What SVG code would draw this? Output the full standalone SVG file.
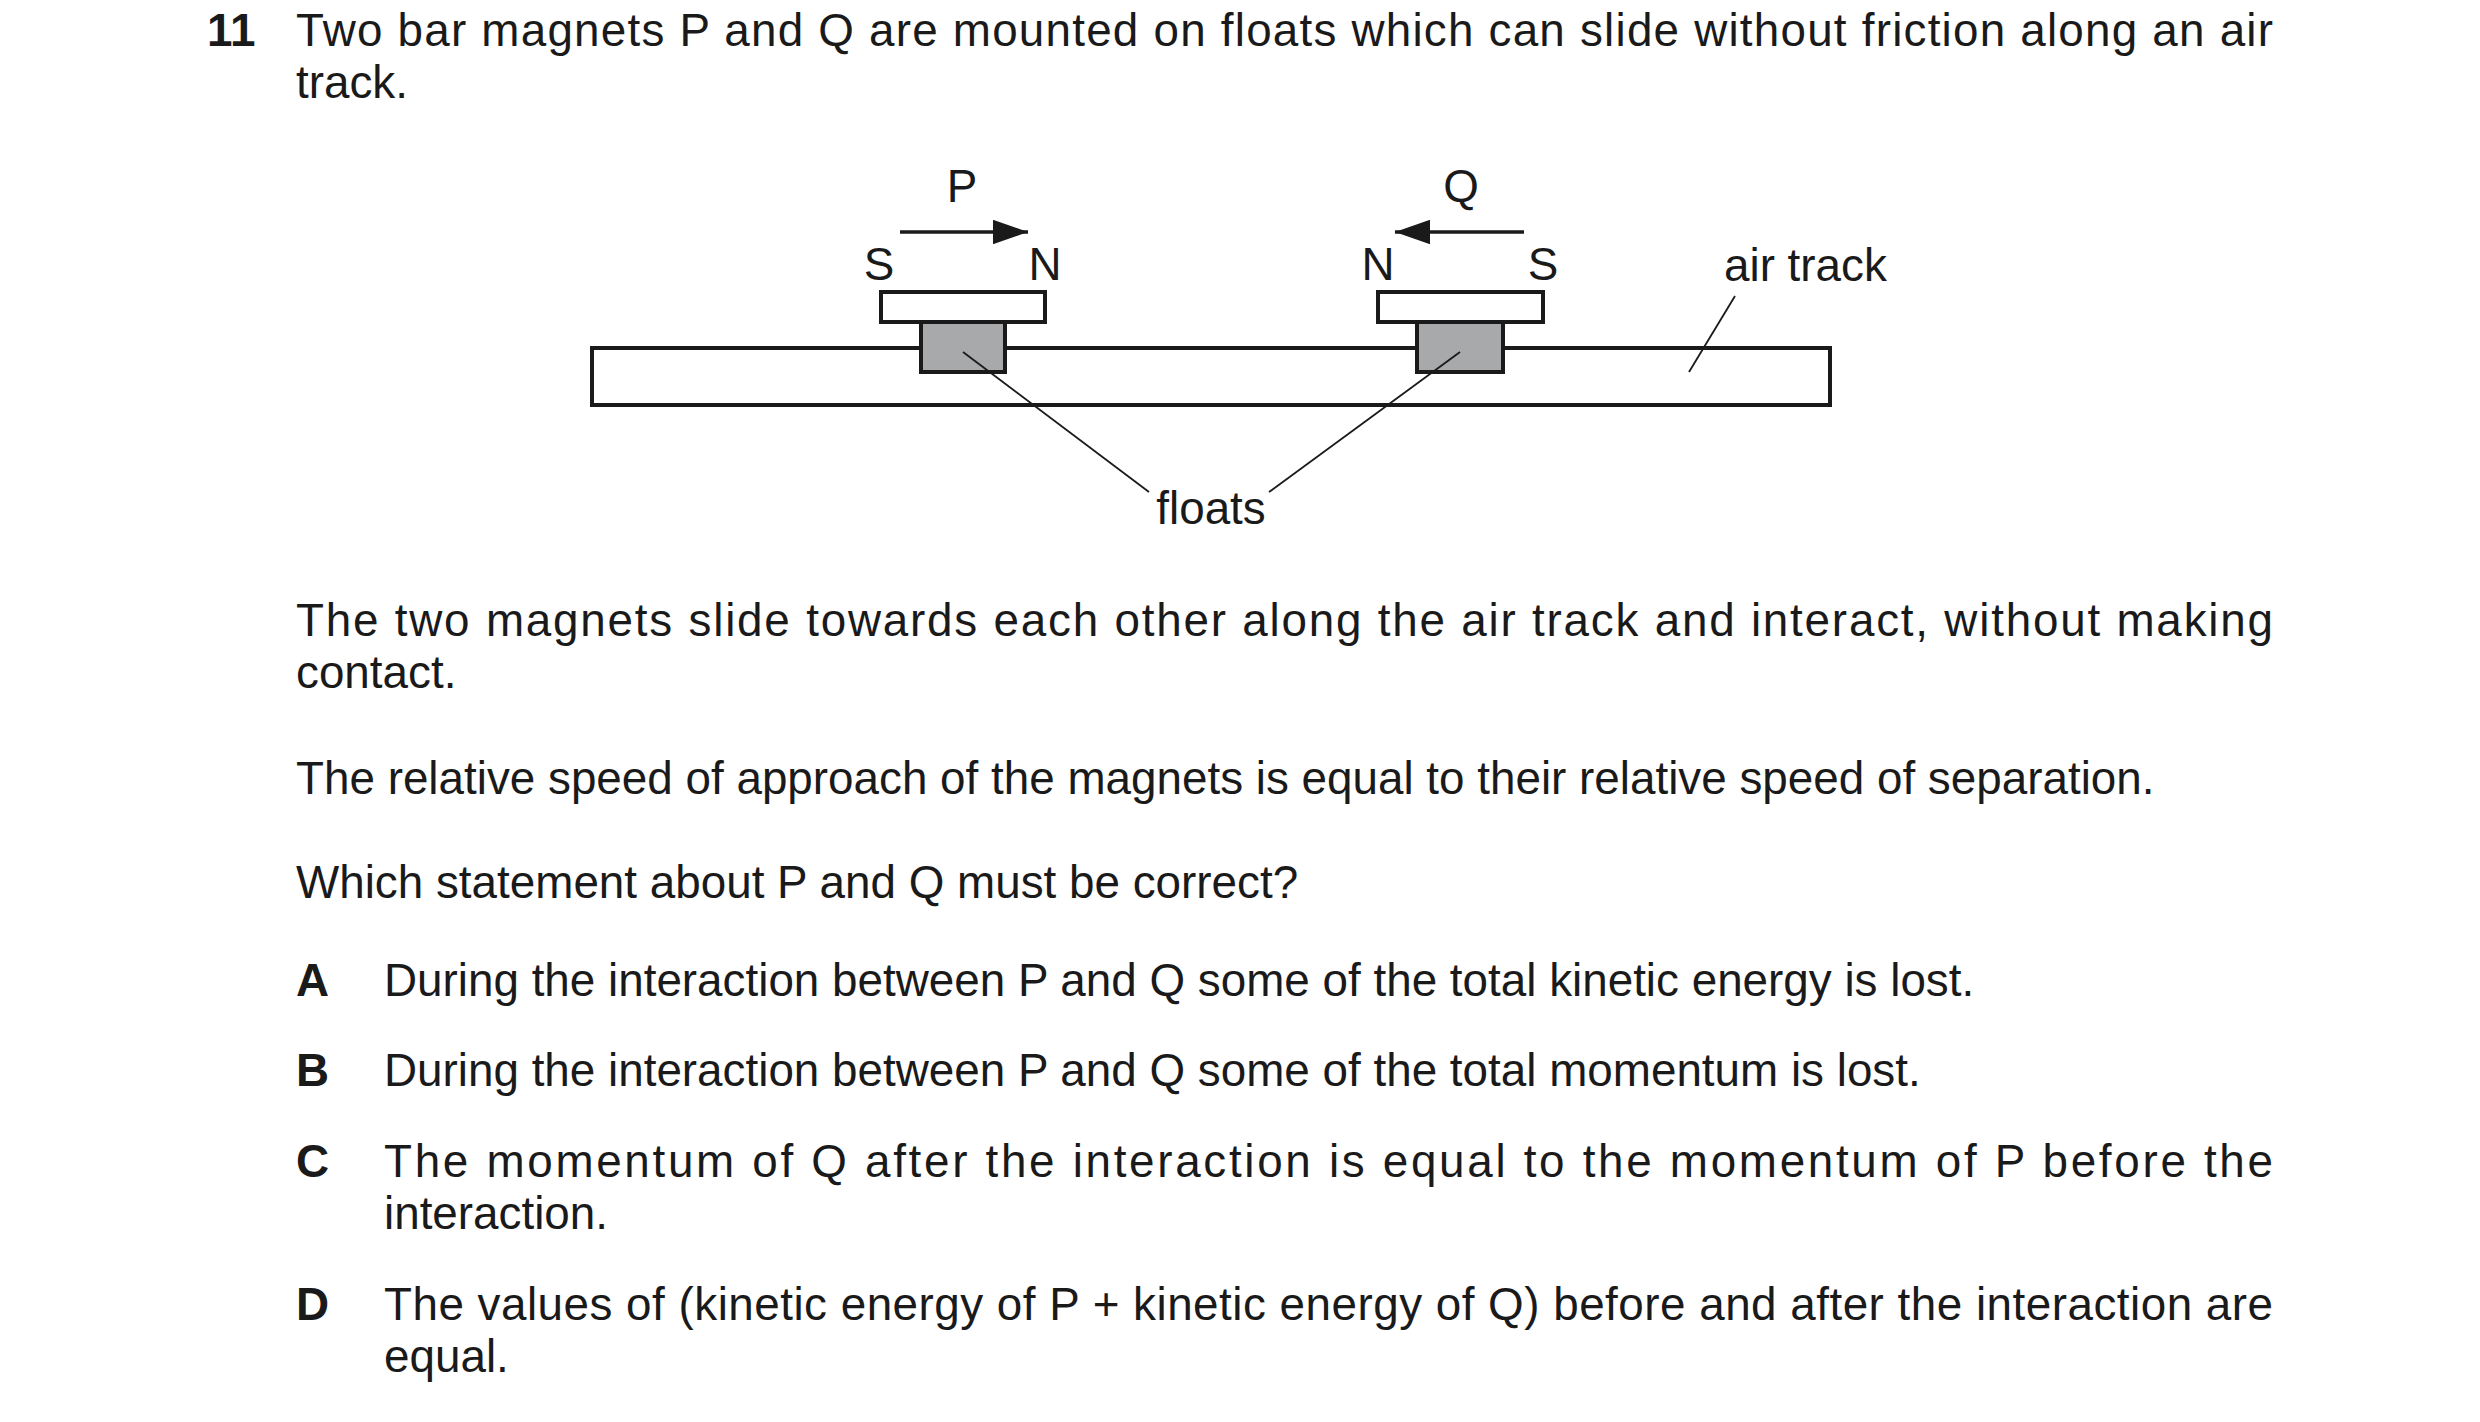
<svg xmlns="http://www.w3.org/2000/svg" width="2480" height="1422" viewBox="0 0 2480 1422">
<defs>
<style>
text{font-family:"Liberation Sans",Arial,sans-serif;font-size:45.8px;fill:#1a1a1a}
.b{font-weight:bold}
.m{text-anchor:middle}
.box{fill:#fff;stroke:#1a1a1a;stroke-width:4}
.fl{fill:#a8a9ab;stroke:#1a1a1a;stroke-width:4}
.ln{stroke:#1a1a1a;stroke-width:1.8;fill:none}
.ar{stroke:#1a1a1a;stroke-width:3.5;fill:none}
</style>
<marker id="ah" viewBox="0 0 10 10" refX="10" refY="5" markerWidth="10" markerHeight="7" orient="auto" markerUnits="strokeWidth" preserveAspectRatio="none"><path d="M0,0L10,5L0,10z" fill="#1a1a1a"/></marker>
</defs>
<rect width="2480" height="1422" fill="#fff"/>
<text class="b" x="207" y="46">11</text>
<text x="296" y="46" textLength="1977" lengthAdjust="spacing">Two bar magnets P and Q are mounted on floats which can slide without friction along an air</text>
<text x="296" y="98">track.</text>
<g id="track"><rect class="box" x="592" y="348" width="1238" height="57"/></g>
<g id="magnetP">
<rect class="box" x="881" y="292" width="164" height="30"/>
<rect class="fl" x="921" y="322" width="84" height="50"/>
<text class="m" x="962" y="202">P</text>
<text class="m" x="879" y="280">S</text>
<text class="m" x="1045" y="280">N</text>
</g>
<g id="magnetQ">
<rect class="box" x="1378" y="292" width="165" height="30"/>
<rect class="fl" x="1417" y="322" width="86" height="50"/>
<text class="m" x="1461" y="202">Q</text>
<text class="m" x="1378" y="280">N</text>
<text class="m" x="1543" y="280">S</text>
</g>
<g id="labels">
<text class="m" x="1211" y="524">floats</text>
<text x="1724" y="281">air track</text>
</g>
<g id="connectors">
<line class="ar" x1="900" y1="232" x2="1028" y2="232" marker-end="url(#ah)"/>
<line class="ar" x1="1524" y1="232" x2="1395" y2="232" marker-end="url(#ah)"/>
<line class="ln" x1="963" y1="352" x2="1149" y2="492"/>
<line class="ln" x1="1460" y1="352" x2="1269" y2="492"/>
<line class="ln" x1="1735" y1="296" x2="1689" y2="372"/>
</g>
<text x="296" y="636" textLength="1977" lengthAdjust="spacing">The two magnets slide towards each other along the air track and interact, without making</text>
<text x="296" y="688">contact.</text>
<text x="296" y="794">The relative speed of approach of the magnets is equal to their relative speed of separation.</text>
<text x="296" y="898">Which statement about P and Q must be correct?</text>
<text class="b" x="296" y="996">A</text>
<text x="384" y="996">During the interaction between P and Q some of the total kinetic energy is lost.</text>
<text class="b" x="296" y="1086">B</text>
<text x="384" y="1086">During the interaction between P and Q some of the total momentum is lost.</text>
<text class="b" x="296" y="1177">C</text>
<text x="384" y="1177" textLength="1889" lengthAdjust="spacing">The momentum of Q after the interaction is equal to the momentum of P before the</text>
<text x="384" y="1229">interaction.</text>
<text class="b" x="296" y="1320">D</text>
<text x="384" y="1320" textLength="1889" lengthAdjust="spacing">The values of (kinetic energy of P + kinetic energy of Q) before and after the interaction are</text>
<text x="384" y="1372">equal.</text>
</svg>
